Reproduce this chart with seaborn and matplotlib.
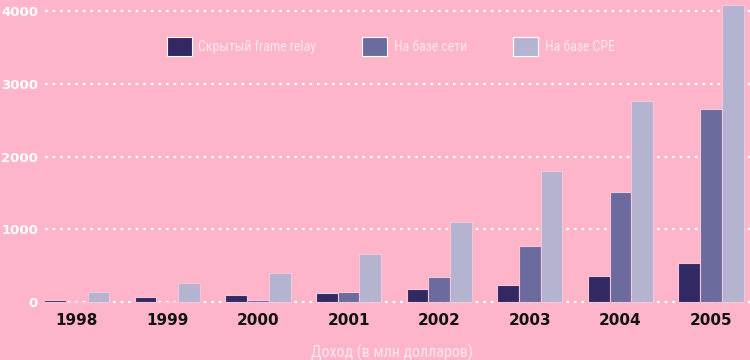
import matplotlib
matplotlib.use("Agg")
import matplotlib.pyplot as plt
import seaborn as sns
import pandas as pd

years = ["1998", "1999", "2000", "2001", "2002", "2003", "2004", "2005"]
series = ["Скрытый frame relay", "На базе сети", "На базе CPE"]
hidden_fr = [27, 65, 100, 124, 175, 234, 358, 532]
network = [5, 5, 30, 142, 348, 770, 1513, 2650]
cpe = [142, 257, 403, 656, 1100, 1806, 2765, 4085]
yticks = [0, 1000, 2000, 3000, 4000]
xlabel = "Доход (в млн долларов)"

colors = ["#2b1e6c", "#6462a6", "#b1b0d4"]
bg = "#ffb5c9"
light_txt = "#fde6ef"
narrow = ["Roboto Condensed", "Liberation Sans Narrow", "Lato", "DejaVu Sans"]

df = pd.DataFrame({
    "year": years * 3,
    "series": [s for s in series for _ in years],
    "value": hidden_fr + network + cpe,
})

sns.set_theme(style="white")
plt.rcParams["font.family"] = ["DejaVu Sans"]

fig = plt.figure(figsize=(7.5, 3.6), dpi=100, facecolor=bg)
ax = fig.add_axes([45 / 750, 55 / 360, 705 / 750, 305 / 360])
ax.set_facecolor(bg)

sns.barplot(data=df, x="year", y="value", hue="series", palette=colors,
            width=0.72, edgecolor="#f3c6e0", linewidth=0.8, ax=ax, zorder=3)

ax.set_xlim(-0.35, 7.43)
ax.set_ylim(-40, 4150)
ax.set_yticks(yticks)
ax.set_yticklabels([str(v) for v in yticks], color="white", fontweight="bold", fontsize=9.5)
ax.tick_params(axis="y", length=0, pad=5)
ax.tick_params(axis="x", length=0, pad=6)
for lbl in ax.get_xticklabels():
    lbl.set_fontweight("bold")
    lbl.set_fontsize(11)
    lbl.set_color("#111111")
ax.yaxis.grid(True, color="white", linestyle=(0, (1.2, 2.2)), linewidth=1.6, zorder=1)
ax.xaxis.grid(False)
for s in ax.spines.values():
    s.set_visible(False)
ax.set_ylabel("")
ax.set_xlabel(xlabel, color=light_txt, fontsize=11.5, family=narrow)
ax.xaxis.set_label_coords((392 - 45) / 705, -39 / 305)

leg = ax.legend(loc="upper left", bbox_to_anchor=(109 / 705, 1 - 24 / 305), ncol=3,
                frameon=False, handlelength=1.8, handleheight=1.8,
                handletextpad=0.5, columnspacing=3.3,
                prop={"family": narrow, "size": 10})
for t in leg.get_texts():
    t.set_color(light_txt)
for h in leg.legend_handles:
    h.set_edgecolor("white")
    h.set_linewidth(0.8)

fig.savefig("out.png", dpi=100, facecolor=bg)
